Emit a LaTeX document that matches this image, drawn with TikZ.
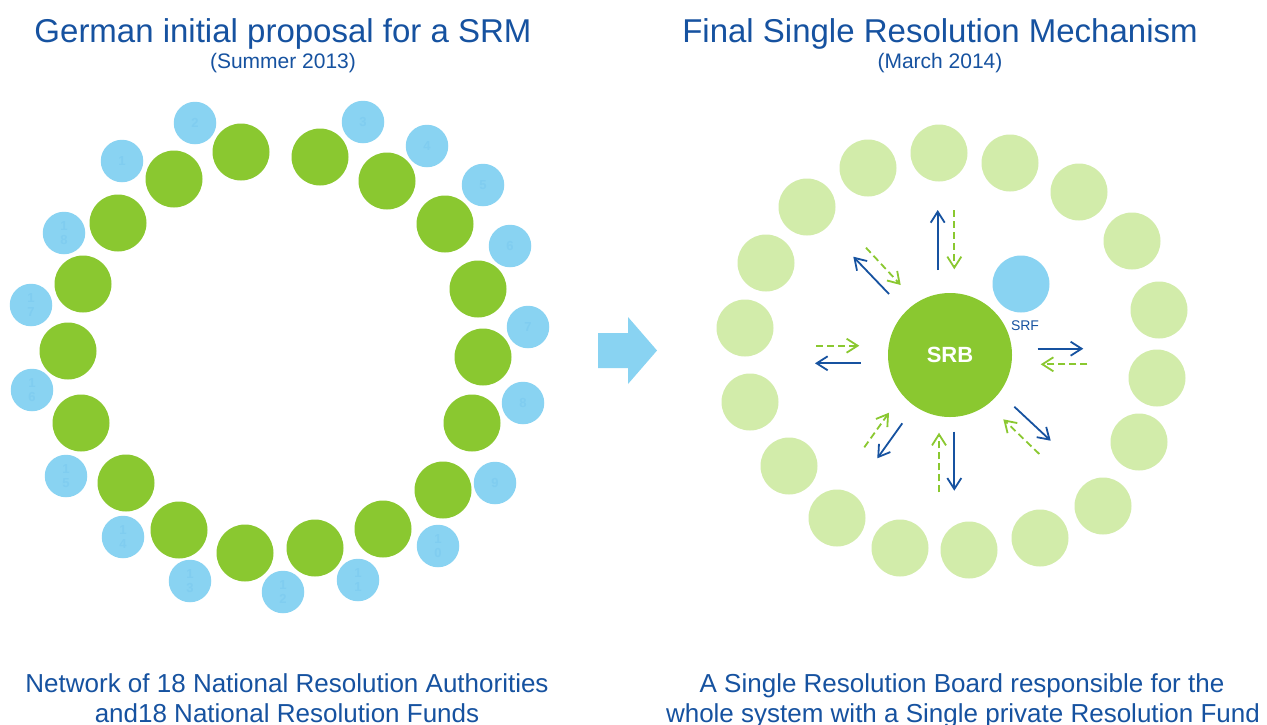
\documentclass[tikz,border=0pt]{standalone}
\usepackage{fontspec}
\setmainfont{Liberation Sans}
\usetikzlibrary{arrows.meta}
\definecolor{tblue}{HTML}{1652A0}
\definecolor{cgreen}{HTML}{8AC830}
\definecolor{cpale}{HTML}{D2ECAA}
\definecolor{cblue}{HTML}{89D3F2}
\definecolor{cnum}{HTML}{80CDF0}
\begin{document}
\begin{tikzpicture}[x=1pt,y=-1pt,
  nra/.style={circle,fill=cgreen,minimum size=57pt,inner sep=0pt},
  nrf/.style={circle,fill=cblue,minimum size=42.5pt,inner sep=0pt,text=cnum,align=center,
    font=\fontsize{13}{14.5}\selectfont\bfseries},
  pale/.style={circle,fill=cpale,minimum size=57pt,inner sep=0pt},
  title/.style={text=tblue,anchor=base,inner sep=0pt,font=\fontsize{33}{38}\selectfont},
  subtitle/.style={text=tblue,anchor=base,inner sep=0pt,font=\fontsize{21}{24}\selectfont},
  caption/.style={text=tblue,anchor=base,inner sep=0pt,font=\fontsize{26}{30}\selectfont},
  outflow/.style={draw=tblue,line width=1.8pt,-{Straight Barb[length=11pt,width=14pt,line width=1.8pt]}},
  inflow/.style={draw=cgreen,line width=1.8pt,dash pattern=on 7pt off 4pt,-{Straight Barb[length=11pt,width=14pt,line width=1.8pt]}}]
\useasboundingbox (0,0) rectangle (1267,724);
\fill[white] (0,0) rectangle (1267,724);
% titles
\node[title] (t1) at (283,42) {German initial proposal for a SRM};
\node[subtitle] (s1) at (283,68) {(Summer 2013)};
\node[title] (t2) at (940,42) {Final Single Resolution Mechanism};
\node[subtitle] (s2) at (940,68) {(March 2014)};
% captions
\node[caption] (c1a) at (287,692) {Network of 18 National Resolution Authorities};
\node[caption] (c1b) at (287,722) {and18 National Resolution Funds};
\node[caption] (c2a) at (962,692) {A Single Resolution Board responsible for the};
\node[caption] (c2b) at (963,722) {whole system with a Single private Resolution Fund};
% left: national resolution authorities
\foreach \x/\y [count=\i] in {241/152,320/157,387/181,445/224,478/289,483/357,472/423,443/490,383/529,315/548,245/553,179/530,126/483,81/423,68/351,83/284,118/223,174/179}
  \node[nra] (nra\i) at (\x,\y) {};
% left: national resolution funds
\foreach \x/\y/\t [count=\i] in {122/161/1,195/123/2,363/122/3,427/146/4,483/185/5,510/246/6,528/327/7,523/403/8,495/483/9,
  438/546/{1\\0},358/580/{1\\1},283/592/{1\\2},190/581/{1\\3},123/537/{1\\4},66/476/{1\\5},32/390/{1\\6},31/305/{1\\7},64/233/{1\\8}}
  \node[nrf] (nrf\i) at (\x,\y) {\t};
% big arrow
\fill[cblue] (598,333) -- (628,333) -- (628,317) -- (657,350.5) -- (628,384) -- (628,368) -- (598,368) -- cycle;
% right: ring of national authorities
\foreach \x/\y [count=\i] in {939/153,1010/163,1079/192,1132/241,1159/310,1157/378,1139/442,1103/506,1040/538,969/550,900/548,837/518,789/466,750/402,745/328,766/263,807/207,868/168}
  \node[pale] (p\i) at (\x,\y) {};
% SRB and SRF
\node[circle,fill=cgreen,minimum size=124pt,inner sep=0pt,text=white,font=\fontsize{22}{24}\selectfont\bfseries] (srb) at (950,355) {SRB};
\node[circle,fill=cblue,minimum size=57pt,inner sep=0pt] (srf) at (1021,284) {};
\node[text=tblue,font=\fontsize{14}{16}\selectfont,inner sep=0pt] (srflab) at (1025,326) {SRF};
% arrow end points
\coordinate (a1s) at (937.7,270); \coordinate (a1e) at (937.7,210);
\coordinate (b1s) at (954.3,210); \coordinate (b1e) at (954.3,269.3);
\coordinate (a2s) at (889,294); \coordinate (a2e) at (853.3,256.7);
\coordinate (b2s) at (866,247.7); \coordinate (b2e) at (900.7,285);
\coordinate (a3s) at (860.7,363.3); \coordinate (a3e) at (815,363.3);
\coordinate (b3s) at (816,345.7); \coordinate (b3e) at (859.3,345.7);
\coordinate (a4s) at (1037.7,348.7); \coordinate (a4e) at (1083.3,348.7);
\coordinate (b4s) at (1087.3,364.3); \coordinate (b4e) at (1040.7,364.3);
\coordinate (a5s) at (1014.3,406.7); \coordinate (a5e) at (1050.7,440.7);
\coordinate (b5s) at (1039.3,454); \coordinate (b5e) at (1003.3,419.3);
\coordinate (a6s) at (954.3,431.7); \coordinate (a6e) at (954.3,490.7);
\coordinate (b6s) at (939,492.3); \coordinate (b6e) at (939,432.7);
\coordinate (a7s) at (902.3,423.3); \coordinate (a7e) at (877.3,458.3);
\coordinate (b7s) at (864.3,447.3); \coordinate (b7e) at (889,412.7);
\foreach \k in {1,...,7}{
  \draw[outflow] (a\k s) -- (a\k e);
  \draw[inflow] (b\k s) -- (b\k e);
}
\end{tikzpicture}
\end{document}
